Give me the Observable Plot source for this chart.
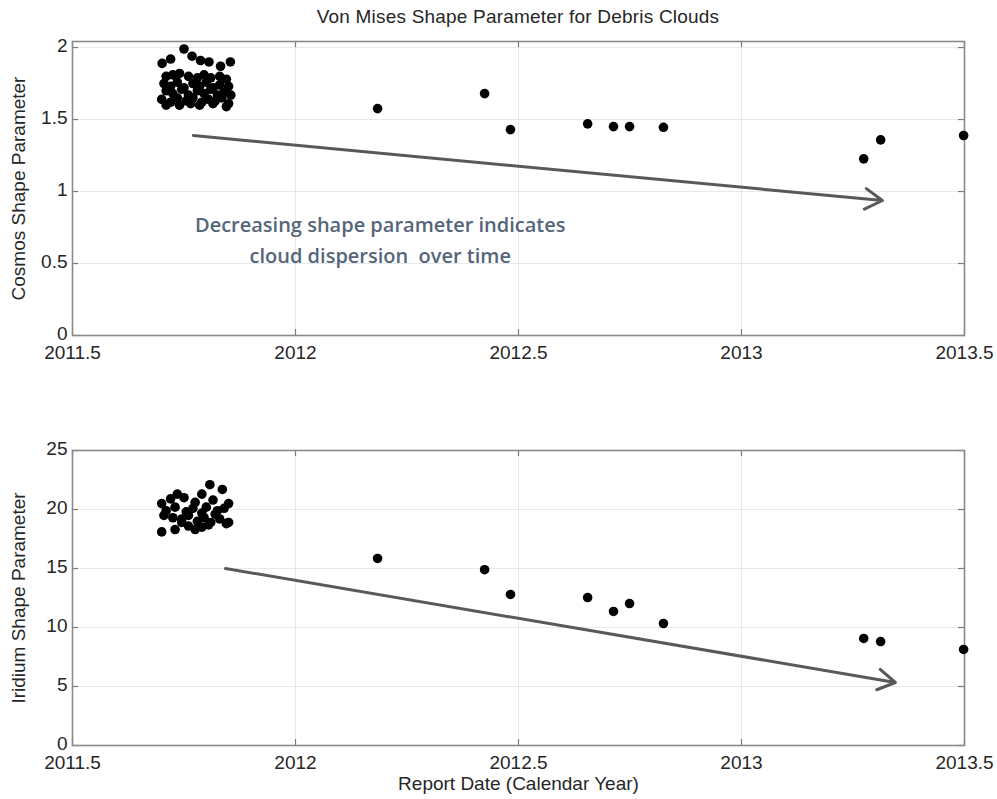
<!DOCTYPE html>
<html>
<head>
<meta charset="utf-8">
<script src="https://cdn.jsdelivr.net/npm/d3@7"></script>
<script src="https://cdn.jsdelivr.net/npm/@observablehq/plot@0.6"></script>
<style>
  html, body { margin: 0; padding: 0; background: #fff; }
  #wrap { position: relative; width: 997px; height: 799px; overflow: hidden; }
  #top, #bottom { position: absolute; left: 0; }
  #top { top: 0; }
  #bottom { top: 400px; }
  #title { position: absolute; left: 72px; width: 892px; top: 6px; text-align: center;
           font-family: "Liberation Sans", Arial, sans-serif; font-size: 19px; letter-spacing: 0.2px;
           color: #262626; z-index: 5; }
</style>
</head>
<body>
<div id="wrap">
  <div id="top"></div>
  <div id="bottom"></div>
  <div id="title">Von Mises Shape Parameter for Debris Clouds</div>
</div>
<script>
// ---- tick labels ----
const xTickValues = [2011.5, 2012, 2012.5, 2013, 2013.5];
const cosmosTicks = [0, 0.5, 1, 1.5, 2];
const iridiumTicks = [0, 5, 10, 15, 20, 25];

// ---- later report dates (shared) ----
const laterDates = [2012.184, 2012.424, 2012.482, 2012.655, 2012.713, 2012.749, 2012.825, 2013.274, 2013.312, 2013.498];
const cosmosLater = [1.576, 1.68, 1.43, 1.47, 1.451, 1.451, 1.446, 1.227, 1.359, 1.389];
const iridiumLater = [15.85, 14.9, 12.8, 12.54, 11.36, 12.03, 10.34, 9.07, 8.81, 8.14];

// ---- early cluster (Cosmos) ----
const cosmosClusterDates = [
  2011.701, 2011.720, 2011.750, 2011.768, 2011.787, 2011.806, 2011.832, 2011.854,
  2011.710, 2011.725, 2011.740, 2011.760, 2011.780, 2011.795, 2011.810, 2011.830, 2011.845,
  2011.705, 2011.720, 2011.735, 2011.750, 2011.770, 2011.785, 2011.800, 2011.815, 2011.830, 2011.850,
  2011.710, 2011.725, 2011.745, 2011.760, 2011.780, 2011.795, 2011.810, 2011.825, 2011.840, 2011.855,
  2011.700, 2011.720, 2011.735, 2011.755, 2011.770, 2011.790, 2011.805, 2011.820, 2011.835, 2011.850,
  2011.710, 2011.740, 2011.765, 2011.785, 2011.815, 2011.845
];
const cosmosClusterValues = [
  1.89, 1.92, 1.99, 1.94, 1.91, 1.90, 1.87, 1.90,
  1.80, 1.81, 1.82, 1.80, 1.79, 1.81, 1.79, 1.80, 1.78,
  1.75, 1.73, 1.76, 1.72, 1.75, 1.73, 1.76, 1.72, 1.74, 1.73,
  1.70, 1.68, 1.71, 1.67, 1.70, 1.68, 1.71, 1.67, 1.69, 1.67,
  1.64, 1.62, 1.65, 1.63, 1.65, 1.62, 1.64, 1.63, 1.65, 1.61,
  1.60, 1.60, 1.61, 1.60, 1.61, 1.59
];

// ---- early cluster (Iridium) ----
const iridiumClusterDates = [
  2011.808, 2011.836, 2011.790, 2011.735, 2011.750, 2011.720, 2011.775, 2011.700, 2011.815, 2011.850,
  2011.710, 2011.730, 2011.755, 2011.770, 2011.790, 2011.800, 2011.825, 2011.840,
  2011.705, 2011.725, 2011.745, 2011.760, 2011.780, 2011.795, 2011.810, 2011.830, 2011.845,
  2011.760, 2011.775, 2011.790, 2011.805, 2011.700, 2011.730, 2011.850, 2011.745, 2011.820
];
const iridiumClusterValues = [
  22.1, 21.7, 21.3, 21.3, 21.0, 20.9, 20.6, 20.5, 20.8, 20.5,
  19.9, 20.2, 19.8, 20.1, 19.7, 20.2, 19.9, 20.1,
  19.5, 19.3, 19.2, 19.5, 19.0, 19.3, 18.9, 19.2, 18.8,
  18.6, 18.3, 18.5, 18.7, 18.1, 18.3, 18.9, 18.9, 19.6
];

// ---- trend arrows ----
const cosmosArrow = [{x1: 2011.771, y1: 1.389, x2: 2013.316, y2: 0.9375}];
const iridiumArrow = [{x1: 2011.843, y1: 15.0, x2: 2013.345, y2: 5.34}];

const annotationLines = ["Decreasing shape parameter indicates", "cloud dispersion  over time"];

// build tables
const cosmosData = cosmosClusterDates.map((d, i) => ({date: d, value: cosmosClusterValues[i]}))
  .concat(laterDates.map((d, i) => ({date: d, value: cosmosLater[i]})));
const iridiumData = iridiumClusterDates.map((d, i) => ({date: d, value: iridiumClusterValues[i]}))
  .concat(laterDates.map((d, i) => ({date: d, value: iridiumLater[i]})));

const FONT = "'Liberation Sans', Arial, sans-serif";
const TEXT = "#262626";
const frameW = 892;

function panel({height, marginTop, marginBottom, yDomain, yTicks, yLabel, data, arrow, xLabel, extra}) {
  const frameH = height - marginTop - marginBottom;
  const marks = [
    Plot.gridX(xTickValues, {stroke: "#000", strokeOpacity: 0.09}),
    Plot.gridY(yTicks, {stroke: "#000", strokeOpacity: 0.09}),
    // inward ticks
    Plot.ruleY(yTicks, {stroke: "#7a7a7a", strokeWidth: 1.2, insetRight: frameW - 6}),
    Plot.ruleY(yTicks, {stroke: "#7a7a7a", strokeWidth: 1.2, insetLeft: frameW - 6}),
    Plot.ruleX(xTickValues, {stroke: "#7a7a7a", strokeWidth: 1.2, insetTop: frameH - 6}),
    Plot.ruleX(xTickValues, {stroke: "#7a7a7a", strokeWidth: 1.2, insetBottom: frameH - 6}),
    Plot.frame({stroke: "#8a8a8a", strokeWidth: 1.6}),
    Plot.axisX(xTickValues, {tickSize: 0, tickPadding: 10, tickFormat: d => String(d),
      fontSize: 19, fill: TEXT, label: xLabel, labelAnchor: "center", labelOffset: 44, labelArrow: "none"}),
    Plot.axisY(yTicks, {tickSize: 0, tickPadding: 5, dy: -2, tickFormat: d => String(d),
      fontSize: 19, fill: TEXT, label: yLabel, labelAnchor: "center", labelOffset: 61, labelArrow: "none"}),
    Plot.arrow(arrow, {x1: "x1", y1: "y1", x2: "x2", y2: "y2", stroke: "#595959", strokeWidth: 3,
      headLength: 10, headAngle: 62}),
    Plot.dot(data, {x: "date", y: "value", r: 4.8, fill: "#000", stroke: "none"})
  ].concat(extra || []);
  return Plot.plot({
    width: 997, height,
    marginTop, marginBottom, marginLeft: 72, marginRight: 33,
    style: {fontFamily: FONT, fontSize: "19px", color: TEXT, background: "transparent"},
    x: {domain: [2011.5, 2013.5]},
    y: {domain: yDomain},
    marks
  });
}

const annoStyle = {fill: "#55657a", fontSize: 20, fontWeight: 600, fontFamily: "'Open Sans', sans-serif"};
const topChart = panel({
  height: 400, marginTop: 41, marginBottom: 65,
  yDomain: [0, 2.042], yTicks: cosmosTicks, yLabel: "Cosmos Shape Parameter",
  data: cosmosData, arrow: cosmosArrow, xLabel: null,
  extra: [
    Plot.text([annotationLines[0]], {x: 2012.19, y: 0.764, text: d => d, ...annoStyle}),
    Plot.text([annotationLines[1]], {x: 2012.19, y: 0.549, text: d => d, ...annoStyle})
  ]
});
document.getElementById("top").appendChild(topChart);

const bottomChart = panel({
  height: 399, marginTop: 50, marginBottom: 54,
  yDomain: [0, 25], yTicks: iridiumTicks, yLabel: "Iridium Shape Parameter",
  data: iridiumData, arrow: iridiumArrow, xLabel: "Report Date (Calendar Year)"
});
document.getElementById("bottom").appendChild(bottomChart);
</script>
</body>
</html>
